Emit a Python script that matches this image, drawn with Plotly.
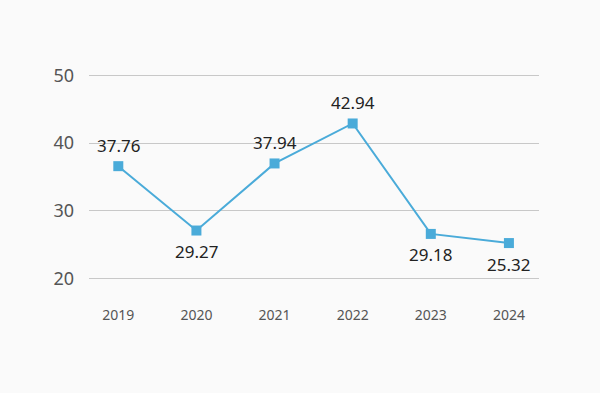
import plotly.graph_objects as go

years = ["2019", "2020", "2021", "2022", "2023", "2024"]
values = [36.6, 27.1, 37.0, 42.9, 26.6, 25.25]
labels = ["37.76", "29.27", "37.94", "42.94", "29.18", "25.32"]
label_above = [True, False, True, True, False, False]

fig = go.Figure()
fig.add_trace(go.Scatter(
    x=years, y=values, mode="lines+markers",
    line=dict(color="#4aabd9", width=2),
    marker=dict(symbol="square", size=10, color="#4aabd9"),
    cliponaxis=False, hoverinfo="skip",
))
for i, (v, lab, up) in enumerate(zip(values, labels, label_above)):
    fig.add_annotation(
        x=i, y=v, text=lab, showarrow=False,
        yshift=21 if up else -21,
        font=dict(family="Noto Sans", size=17, color="#222222"),
    )
fig.update_layout(
    width=600, height=393,
    margin=dict(l=89, r=61, t=74, b=113),
    paper_bgcolor="#fafafa", plot_bgcolor="#fafafa",
    showlegend=False,
    font=dict(family="Noto Sans"),
)
fig.update_xaxes(
    type="category", range=[-0.375, 5.385],
    showgrid=False, zeroline=False, showline=False,
    tickfont=dict(size=14, color="#555555"),
    ticks="", ticklabelstandoff=25,
)
fig.update_yaxes(
    range=[19.8, 50.2], tickvals=[20, 30, 40, 50],
    showgrid=True, gridcolor="#c8c8c8", gridwidth=1,
    zeroline=False, showline=False,
    tickfont=dict(size=18, color="#555555"),
    ticklabelstandoff=14,
)
fig.write_html(
    "out.html",
    config={"displayModeBar": False},
    post_script="document.body.style.margin='0';document.body.style.background='#fafafa';",
)
